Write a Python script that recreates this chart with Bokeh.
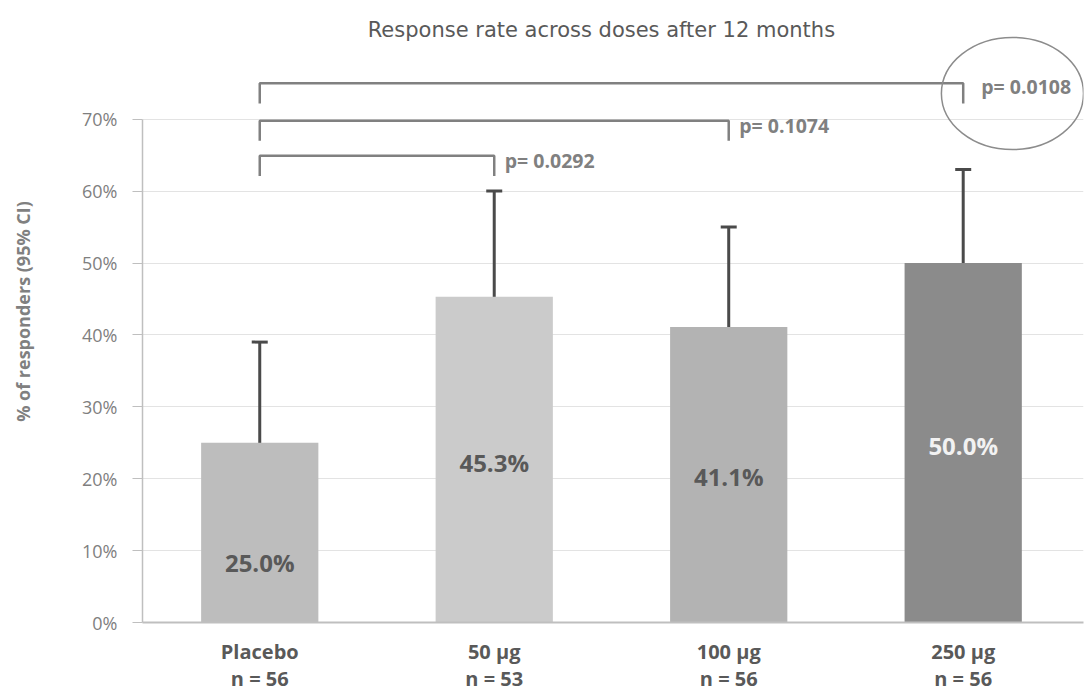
from bokeh.plotting import figure
from bokeh.models import (ColumnDataSource, FixedTicker, NumeralTickFormatter, LinearAxis,
                          Whisker, TeeHead, Range1d)
from bokeh.core.properties import value
from bokeh.embed import file_html
from bokeh.resources import INLINE

# ---- data ----
groups = ["Placebo", "50 µg", "100 µg", "250 µg"]
n_sizes = ["n = 56", "n = 53", "n = 56", "n = 56"]
response = [0.250, 0.453, 0.411, 0.500]
ci_lower = [0.14, 0.31, 0.28, 0.37]
ci_upper = [0.39, 0.60, 0.55, 0.63]
value_labels = ["25.0%", "45.3%", "41.1%", "50.0%"]
bar_colors = ["#bdbdbd", "#cbcbcb", "#b3b3b3", "#8b8b8b"]
label_colors = ["#595959", "#595959", "#595959", "#f2f2f2"]
label_y = [0.083, 0.223, 0.203, 0.246]
# comparisons vs placebo
comp_to = [1, 2, 3]
comp_p = ["p= 0.0292", "p= 0.1074", "p= 0.0108"]
comp_top = [0.649, 0.698, 0.750]
comp_drop = [0.621, 0.670, 0.722]
comp_text_y = [0.642, 0.691, 0.745]
comp_text_dx = [0.045, 0.045, 0.077]
y_ticks = [0.0, 0.1, 0.2, 0.3, 0.4, 0.5, 0.6, 0.7]
title_text = "Response rate across doses after 12 months"

FONT = "Open Sans"
x = list(range(len(groups)))

p = figure(width=1084, height=696, x_range=Range1d(-0.5, 3.513), y_range=Range1d(0, 0.8651),
           output_backend="svg", toolbar_location=None, title=None,
           min_border_left=142, min_border_right=1, min_border_top=0, min_border_bottom=74)
p.outline_line_color = None
p.background_fill_color = "white"

# y axis
p.yaxis.ticker = FixedTicker(ticks=y_ticks)
p.yaxis.formatter = NumeralTickFormatter(format="0%")
p.yaxis.bounds = (0, 0.7)
p.yaxis.axis_line_color = "#bfbfbf"
p.yaxis.axis_line_width = 1.5
p.yaxis.major_tick_line_color = "#bfbfbf"
p.yaxis.major_tick_in = 0
p.yaxis.major_tick_out = 10
p.yaxis.minor_tick_line_color = None
p.yaxis.major_label_standoff = 15
p.yaxis.major_label_text_font = FONT
p.yaxis.major_label_text_font_size = "18px"
p.yaxis.major_label_text_color = "#7f7f7f"
p.yaxis.axis_label = "% of responders (95% CI)"
p.yaxis.axis_label_text_font = FONT
p.yaxis.axis_label_text_font_size = "18px"
p.yaxis.axis_label_text_font_style = "bold"
p.yaxis.axis_label_text_color = "#808080"
p.yaxis.axis_label_standoff = 44

p.ygrid.ticker = FixedTicker(ticks=y_ticks)
p.ygrid.grid_line_color = "#e3e3e3"
p.ygrid.grid_line_width = 1
p.xgrid.grid_line_color = None

# x axis (group names)
xa = p.xaxis[0]
xa.ticker = FixedTicker(ticks=x)
xa.major_label_overrides = {i: g for i, g in zip(x, groups)}
xa.axis_line_color = "#bfbfbf"
xa.axis_line_width = 2
xa.major_tick_line_color = None
xa.minor_tick_line_color = None
xa.major_label_standoff = 9
xa.major_label_text_font = FONT
xa.major_label_text_font_size = "20px"
xa.major_label_text_font_style = "bold"
xa.major_label_text_color = "#595959"

# second x axis (sample sizes)
xa2 = LinearAxis(ticker=FixedTicker(ticks=x),
                 major_label_overrides={i: n for i, n in zip(x, n_sizes)},
                 axis_line_color=None, major_tick_line_color=None, minor_tick_line_color=None,
                 major_label_standoff=-9, major_label_text_font=FONT,
                 major_label_text_font_size="20px", major_label_text_font_style="bold",
                 major_label_text_color="#595959")
p.add_layout(xa2, "below")

# bars
src = ColumnDataSource(dict(x=x, top=response, lo=ci_lower, hi=ci_upper, color=bar_colors,
                            lab=value_labels, lab_y=label_y, lab_c=label_colors))
p.vbar(x="x", top="top", width=0.5, fill_color="color", line_color=None, source=src)

# error bars
w = Whisker(base="x", upper="hi", lower="lo", source=src, dimension="height",
            line_color="#4a4a4a", line_width=3,
            upper_head=TeeHead(size=16, line_color="#4a4a4a", line_width=3),
            lower_head=TeeHead(size=16, line_color="#4a4a4a", line_width=3))
p.add_layout(w)

# value labels
p.text(x="x", y="lab_y", text="lab", text_color="lab_c", source=src,
       text_align="center", text_baseline="middle",
       text_font=value(FONT), text_font_size="24px", text_font_style="bold")

# comparison brackets
xs, ys = [], []
for k, t, d in zip(comp_to, comp_top, comp_drop):
    xs.append([x[0], x[0], x[k], x[k]])
    ys.append([d, t, t, d])
p.multi_line(xs=xs, ys=ys, line_color="#808080", line_width=2.5)
p.text(x=[x[k] + dx for k, dx in zip(comp_to, comp_text_dx)], y=comp_text_y, text=comp_p,
       text_align="left", text_baseline="middle", text_color="#808080",
       text_font=value(FONT), text_font_size="19.5px", text_font_style="bold")

# highlight ellipse around the strongest comparison
p.ellipse(x=[x[3] + 0.21], y=[0.7357], width=0.606, height=0.156,
          fill_color=None, line_color="#8c8c8c", line_width=1.5)

# title
p.text(x=[1.457], y=[0.8234], text=[title_text], text_align="center", text_baseline="middle",
       text_font=value("DejaVu Sans"), text_font_size="21px", text_color="#595959")

open("out.html", "w").write(file_html(p, INLINE))
